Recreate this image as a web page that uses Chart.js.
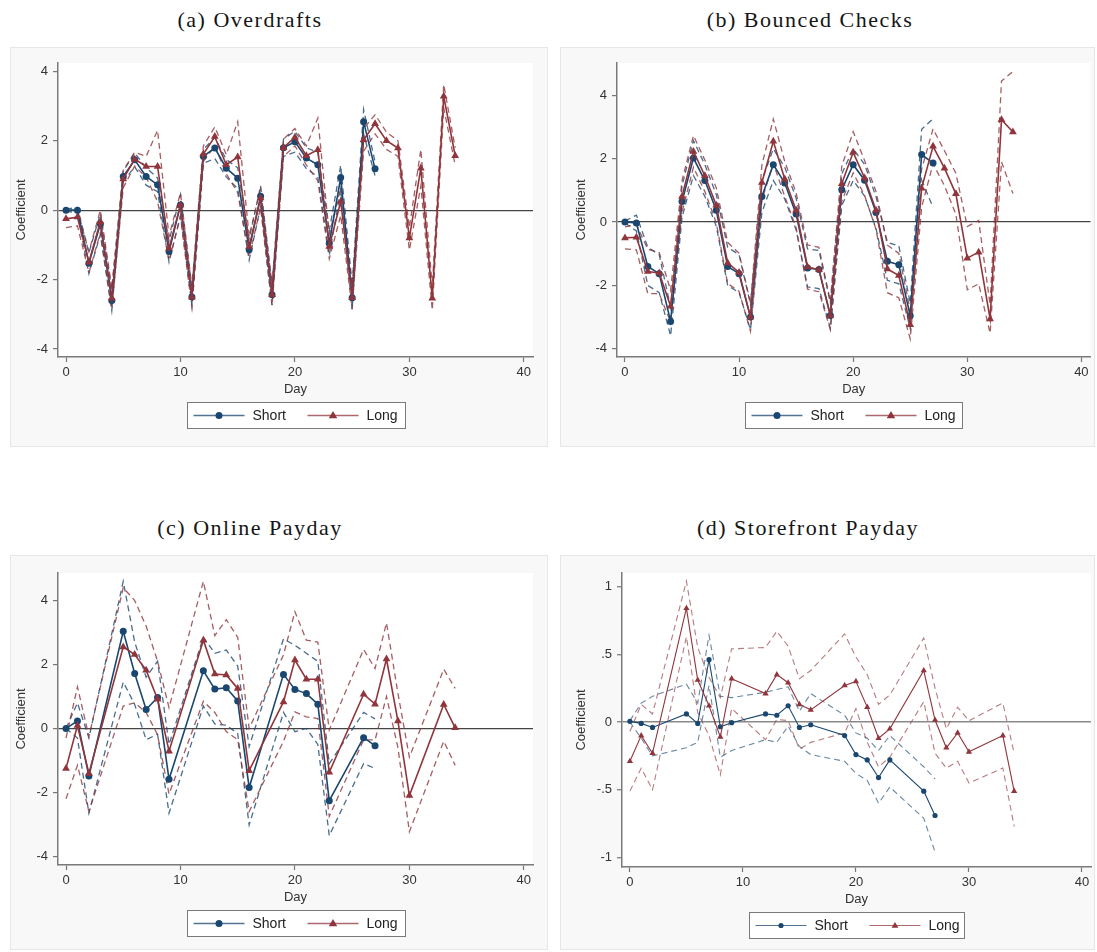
<!DOCTYPE html>
<html>
<head>
<meta charset="utf-8">
<script src="https://cdn.jsdelivr.net/npm/chart.js@4.4.0/dist/chart.umd.min.js"></script>
<style>
  body { margin: 0; background: #fff; width: 1097px; height: 952px; position: relative; overflow: hidden; }
  .titulo { position: absolute; transform: translateX(-50%); white-space: nowrap;
            font-family: "Liberation Serif", serif; font-size: 22px; letter-spacing: 1.5px; color: #151515; line-height: 26px; }
  .marco { position: absolute; box-sizing: border-box; background: #f8f8f8; border: 1px solid #e6e6e6; }
  canvas { position: absolute; }
</style>
</head>
<body>
<div class="titulo" style="left:250px;top:7px">(a) Overdrafts</div>
<div class="titulo" style="left:810px;top:7px">(b) Bounced Checks</div>
<div class="titulo" style="left:250px;top:515px">(c) Online Payday</div>
<div class="titulo" style="left:808px;top:515px">(d) Storefront Payday</div>

<div class="marco" style="left:10px;top:47px;width:538px;height:400px"></div>
<div class="marco" style="left:560px;top:47px;width:535px;height:400px"></div>
<div class="marco" style="left:10px;top:555px;width:538px;height:395px"></div>
<div class="marco" style="left:560px;top:555px;width:535px;height:395px"></div>

<canvas id="panelA" width="538" height="400" style="left:10px;top:47px"></canvas>
<canvas id="panelB" width="535" height="400" style="left:560px;top:47px"></canvas>
<canvas id="panelC" width="538" height="395" style="left:10px;top:555px"></canvas>
<canvas id="panelD" width="535" height="395" style="left:560px;top:555px"></canvas>

<script>
// Dias del evento
const diasCortoAB = [0,1,2,3,4,5,6,7,8,9,10,11,12,13,14,15,16,17,18,19,20,21,22,23,24,25,26,27];
const diasLargoAB = [0,1,2,3,4,5,6,7,8,9,10,11,12,13,14,15,16,17,18,19,20,21,22,23,24,25,26,27,28,29,30,31,32,33,34];
const diasCortoCD = [0,1,2,5,6,7,8,9,12,13,14,15,16,19,20,21,22,23,26,27];
const diasLargoCD = [0,1,2,5,6,7,8,9,12,13,14,15,16,19,20,21,22,23,26,27,28,29,30,33,34];

// (a) Overdrafts
const aCorto   = [0,0,-1.53,-0.4,-2.6,0.97,1.45,0.97,0.73,-1.19,0.15,-2.5,1.55,1.79,1.21,0.92,-1.14,0.4,-2.44,1.8,1.97,1.5,1.31,-0.95,0.94,-2.52,2.55,1.19];
const aCortoHi = [0.03,0.08,-1.23,-0.1,-2.3,1.12,1.65,1.22,0.93,-0.89,0.45,-2.25,1.75,2.09,1.46,1.22,-0.84,0.7,-2.14,2.05,2.27,1.8,1.66,-0.6,1.29,-2.17,2.9,1.39];
const aCortoLo = [-0.03,-0.08,-1.83,-0.7,-2.9,0.82,1.25,0.72,0.53,-1.49,-0.15,-2.75,1.35,1.49,0.96,0.62,-1.44,0.1,-2.74,1.55,1.67,1.2,0.96,-1.3,0.59,-2.87,2.2,0.99];
const aLargo   = [-0.25,-0.2,-1.5,-0.33,-2.54,0.9,1.47,1.26,1.26,-1.1,0.15,-2.5,1.62,2.12,1.31,1.53,-1.05,0.35,-2.44,1.8,2.1,1.57,1.74,-1.05,0.25,-2.52,2.03,2.49,2.0,1.79,-0.8,1.21,-2.54,3.28,1.57];
const aLargoHi = [-0.02,0.0,-1.2,0.0,-2.25,1.15,1.67,1.55,2.3,-0.75,0.5,-2.2,1.85,2.4,1.6,2.55,-0.75,0.62,-2.15,2.05,2.35,1.85,2.65,-0.7,0.65,-2.2,2.35,2.75,2.25,2.0,-0.5,1.75,-2.2,3.62,1.8];
const aLargoLo = [-0.5,-0.45,-1.8,-0.65,-2.85,0.65,1.27,0.95,0.25,-1.45,-0.2,-2.8,1.4,1.85,1.05,0.5,-1.35,0.08,-2.75,1.55,1.85,1.3,0.85,-1.4,-0.15,-2.85,1.7,2.2,1.75,1.55,-1.15,0.7,-2.88,2.95,1.3];

// (b) Bounced Checks
const bCorto   = [0,-0.03,-1.4,-1.63,-3.14,0.65,2.02,1.31,0.37,-1.4,-1.63,-3.0,0.81,1.81,1.23,0.25,-1.45,-1.5,-2.95,1.02,1.81,1.32,0.3,-1.24,-1.35,-2.96,2.13,1.86];
const bCortoHi = [0.03,0.22,-0.8,-1.03,-2.69,1.15,2.57,1.81,0.87,-0.8,-1.03,-2.6,1.31,2.31,1.73,0.75,-0.85,-0.9,-2.55,1.52,2.31,1.82,0.8,-0.64,-0.75,-2.56,2.93,3.26];
const bCortoLo = [-0.03,-0.28,-2.0,-2.23,-3.59,0.15,1.47,0.81,-0.13,-2.0,-2.23,-3.4,0.31,1.31,0.73,-0.25,-2.05,-2.1,-3.35,0.52,1.31,0.82,-0.2,-1.84,-1.95,-3.36,1.33,0.46];
const bLargo   = [-0.5,-0.48,-1.56,-1.61,-2.66,0.81,2.23,1.46,0.53,-1.29,-1.59,-3.0,1.25,2.55,1.36,0.37,-1.42,-1.5,-2.95,1.21,2.2,1.39,0.37,-1.48,-1.69,-3.24,1.07,2.39,1.7,0.89,-1.14,-0.95,-3.06,3.23,2.84];
const bLargoHi = [-0.15,-0.08,-0.86,-0.96,-2.16,1.31,2.73,1.96,1.08,-0.64,-0.99,-2.55,1.8,3.25,1.91,0.92,-0.72,-0.8,-2.5,1.76,2.85,1.94,0.97,-0.73,-0.99,-2.79,1.67,2.94,2.25,1.54,-0.14,0.05,-2.61,4.45,4.75];
const bLargoLo = [-0.85,-0.88,-2.26,-2.26,-3.16,0.31,1.73,0.96,-0.02,-1.94,-2.19,-3.45,0.7,1.85,0.81,-0.18,-2.12,-2.2,-3.4,0.66,1.55,0.84,-0.23,-2.23,-2.39,-3.69,0.47,1.84,1.15,0.24,-2.14,-1.95,-3.51,1.9,0.9];

// (c) Online Payday
const cCorto   = [0,0.23,-1.49,3.04,1.72,0.59,0.97,-1.59,1.8,1.23,1.27,0.86,-1.85,1.69,1.22,1.09,0.76,-2.26,-0.29,-0.54];
const cCortoHi = [0,0.8,-0.3,4.6,2.7,1.6,2.1,-0.5,2.85,2.35,2.45,1.95,-0.57,2.8,2.6,2.35,2.1,-1.1,0.5,0.3];
const cCortoLo = [0,-0.3,-2.65,1.45,0.75,-0.35,-0.18,-2.65,0.7,0.14,0.1,-0.16,-3.02,0.5,-0.1,0.0,-0.5,-3.35,-1.1,-1.25];
const cLargo   = [-1.25,0.09,-1.41,2.55,2.31,1.82,0.91,-0.71,2.76,1.7,1.67,1.25,-1.32,0.83,2.14,1.54,1.54,-1.37,1.07,0.76,2.17,0.23,-2.1,0.75,0.02];
const cLargoHi = [-0.3,1.3,-0.25,4.4,4.0,3.2,2.1,0.65,4.6,2.9,3.4,2.85,0.0,2.3,3.65,2.76,2.7,-0.05,2.47,1.87,3.3,1.1,-0.9,1.85,1.25];
const cLargoLo = [-2.2,-1.15,-2.6,0.7,0.8,0.5,-0.2,-2.05,0.85,0.5,-0.1,-0.35,-2.6,-0.4,0.52,0.36,0.31,-2.75,-0.36,-0.36,1.0,-0.6,-3.23,-0.4,-1.15];

// (d) Storefront Payday
const dCorto   = [0.005,-0.01,-0.04,0.06,-0.01,0.46,-0.035,-0.005,0.06,0.05,0.12,-0.04,-0.02,-0.1,-0.24,-0.28,-0.41,-0.28,-0.51,-0.69];
const dCortoHi = [0.01,0.14,0.19,0.28,0.14,0.64,0.19,0.18,0.22,0.24,0.26,0.08,0.21,0.05,-0.08,-0.12,-0.21,-0.1,-0.33,-0.42];
const dCortoLo = [0.0,-0.12,-0.25,-0.19,-0.15,0.27,-0.26,-0.21,-0.13,-0.15,-0.03,-0.18,-0.24,-0.29,-0.38,-0.43,-0.6,-0.48,-0.71,-0.96];
const dLargo   = [-0.29,-0.1,-0.23,0.84,0.31,0.12,-0.11,0.32,0.21,0.35,0.29,0.13,0.09,0.27,0.3,0.11,-0.12,-0.05,0.38,0.015,-0.19,-0.08,-0.22,-0.1,-0.51];
const dLargoHi = [-0.07,0.13,0.06,1.04,0.55,0.33,0.18,0.54,0.55,0.67,0.56,0.32,0.38,0.65,0.48,0.35,0.13,0.2,0.62,0.25,-0.05,0.11,0.01,0.14,-0.23];
const dLargoLo = [-0.51,-0.34,-0.5,0.63,0.07,-0.1,-0.39,0.1,-0.13,0.02,0.01,-0.2,-0.15,-0.08,0.1,-0.15,-0.33,-0.26,0.15,-0.23,-0.34,-0.29,-0.45,-0.34,-0.77];

// Ejes
const ticksX = [0, 10, 20, 30, 40];
const ticksY4 = [-4, -2, 0, 2, 4];
const etiquetasY4 = ['-4', '-2', '0', '2', '4'];
const ticksY1 = [-1, -0.5, 0, 0.5, 1];
const etiquetasY1 = ['-1', '-.5', '0', '.5', '1'];

const azul = '#1a476f';
const rojo = '#90353b';
const fuente = '"Liberation Sans", Arial, sans-serif';

function puntos(dias, valores) {
    return dias.map((d, i) => ({x: d, y: valores[i]}));
}

function marcador(ctx, forma, x, y, r, color) {
    ctx.fillStyle = color;
    ctx.beginPath();
    if (forma === 'circle') {
        ctx.arc(x, y, r, 0, Math.PI * 2);
    } else {
        ctx.moveTo(x, y - r);
        ctx.lineTo(x - r * 0.95, y + r * 0.6);
        ctx.lineTo(x + r * 0.95, y + r * 0.6);
        ctx.closePath();
    }
    ctx.fill();
}

// Fondo blanco del area de trazado y leyenda tipo Stata
const fondoYLeyenda = {
    id: 'fondoYLeyenda',
    beforeDraw(chart) {
        const {ctx, chartArea: a} = chart;
        ctx.save();
        ctx.fillStyle = '#ffffff';
        ctx.fillRect(a.left, a.top, a.right - a.left, a.bottom - a.top);
        ctx.restore();
    },
    afterDraw(chart, args, opts) {
        const {ctx, chartArea: a} = chart;
        const ancho = opts.ancho, alto = 26;
        const x0 = Math.round((a.left + a.right) / 2 - ancho / 2) + 0.5;
        const y0 = Math.round(a.bottom + 45) + 0.5;
        ctx.save();
        ctx.fillStyle = '#ffffff';
        ctx.fillRect(x0, y0, ancho, alto);
        ctx.strokeStyle = '#7a7a7a';
        ctx.lineWidth = 1;
        ctx.strokeRect(x0, y0, ancho, alto);
        const yc = y0 + alto / 2;
        const items = [
            {texto: 'Short', color: azul, forma: 'circle', r: opts.rCirculo, x: 6},
            {texto: 'Long', color: rojo, forma: 'triangle', r: opts.rTriangulo, x: 120}
        ];
        items.forEach(it => {
            ctx.strokeStyle = it.color;
            ctx.globalAlpha = 0.75;
            ctx.lineWidth = opts.grosor;
            ctx.beginPath();
            ctx.moveTo(x0 + it.x, yc);
            ctx.lineTo(x0 + it.x + 51, yc);
            ctx.stroke();
            ctx.globalAlpha = 1;
            marcador(ctx, it.forma, x0 + it.x + 25.5, yc, it.r, it.color);
            ctx.fillStyle = '#222';
            ctx.font = '14px ' + fuente;
            ctx.textBaseline = 'middle';
            ctx.fillText(it.texto, x0 + it.x + 59, yc + 1);
        });
        ctx.restore();
    }
};

function crearPanel(id, p) {
    const lineaBanda = (datos, color) => ({
        data: datos,
        borderColor: color,
        borderWidth: p.grosorBanda,
        borderDash: [6, 4],
        pointRadius: 0,
        fill: false,
        tension: 0
    });
    const lineaCoef = (datos, color, forma, r) => ({
        data: datos,
        borderColor: color,
        backgroundColor: color,
        borderWidth: p.grosor,
        pointStyle: forma,
        pointRadius: r,
        pointBorderWidth: 0,
        fill: false,
        tension: 0
    });
    return new Chart(document.getElementById(id), {
        type: 'line',
        data: {
            datasets: [
                lineaCoef(puntos(p.diasLargo, p.largo), rojo, 'triangle', p.rTriangulo),
                lineaCoef(puntos(p.diasCorto, p.corto), azul, 'circle', p.rCirculo),
                lineaBanda(puntos(p.diasLargo, p.largoHi), p.rojoBanda),
                lineaBanda(puntos(p.diasLargo, p.largoLo), p.rojoBanda),
                lineaBanda(puntos(p.diasCorto, p.cortoHi), p.azulBanda),
                lineaBanda(puntos(p.diasCorto, p.cortoLo), p.azulBanda)
            ]
        },
        options: {
            responsive: false,
            animation: false,
            devicePixelRatio: 1,
            events: [],
            layout: { padding: p.padding },
            plugins: {
                legend: { display: false },
                tooltip: { enabled: false },
                fondoYLeyenda: { ancho: p.anchoLeyenda, rCirculo: p.rCirculo, rTriangulo: p.rTriangulo, grosor: p.grosor }
            },
            scales: {
                x: {
                    type: 'linear',
                    min: -0.7,
                    max: 40.8,
                    afterBuildTicks: eje => { eje.ticks = ticksX.map(v => ({value: v})); },
                    afterFit: eje => { eje.height = 40; },
                    grid: { drawOnChartArea: false, drawTicks: true, tickLength: 5, tickColor: '#777', tickWidth: 1.2 },
                    border: { display: true, color: '#7a7a7a', width: 1.5 },
                    ticks: { color: '#333', font: { size: 13, family: fuente }, padding: 3, maxRotation: 0, autoSkip: false },
                    title: { display: true, text: 'Day', color: '#333', font: { size: 13, family: fuente }, padding: { top: 0, bottom: 0 } }
                },
                y: {
                    min: p.yMin,
                    max: p.yMax,
                    afterBuildTicks: eje => { eje.ticks = p.ticksY.map(v => ({value: v})); },
                    afterFit: eje => { eje.width = p.anchoY; },
                    grid: {
                        drawOnChartArea: true,
                        drawTicks: true,
                        tickLength: 5,
                        tickColor: '#777',
                        tickWidth: 1.2,
                        color: c => (c.tick && c.tick.value === 0) ? p.colorCero : 'rgba(0,0,0,0)',
                        lineWidth: p.grosorCero
                    },
                    border: { display: true, color: '#7a7a7a', width: 1.5 },
                    ticks: {
                        color: '#333',
                        font: { size: 13, family: fuente },
                        padding: 5,
                        autoSkip: false,
                        callback: (v, i) => p.etiquetasY[i]
                    },
                    title: { display: true, text: 'Coefficient', color: '#333', font: { size: 13, family: fuente }, padding: { top: p.padTitulo, bottom: 0 } }
                }
            }
        },
        plugins: [fondoYLeyenda]
    });
}

const estiloGrueso = {
    grosor: 1.6, grosorBanda: 1.3, rCirculo: 3.5, rTriangulo: 4.5,
    azulBanda: 'rgba(26,71,111,0.8)', rojoBanda: 'rgba(144,53,59,0.8)',
    colorCero: '#444', grosorCero: 1.2
};

crearPanel('panelA', Object.assign({}, estiloGrueso, {
    diasCorto: diasCortoAB, diasLargo: diasLargoAB,
    corto: aCorto, cortoHi: aCortoHi, cortoLo: aCortoLo,
    largo: aLargo, largoHi: aLargoHi, largoLo: aLargoLo,
    yMin: -4.23, yMax: 4.24, ticksY: ticksY4, etiquetasY: etiquetasY4,
    anchoY: 48, padTitulo: 4, anchoLeyenda: 218,
    padding: { left: 0, right: 15, top: 16, bottom: 50 }
}));

crearPanel('panelB', Object.assign({}, estiloGrueso, {
    diasCorto: diasCortoAB, diasLargo: diasLargoAB,
    corto: bCorto, cortoHi: bCortoHi, cortoLo: bCortoLo,
    largo: bLargo, largoHi: bLargoHi, largoLo: bLargoLo,
    yMin: -4.26, yMax: 5.02, ticksY: ticksY4, etiquetasY: etiquetasY4,
    anchoY: 57, padTitulo: 14, anchoLeyenda: 217,
    padding: { left: 0, right: 3, top: 16, bottom: 50 }
}));

crearPanel('panelC', Object.assign({}, estiloGrueso, {
    diasCorto: diasCortoCD, diasLargo: diasLargoCD,
    corto: cCorto, cortoHi: cCortoHi, cortoLo: cCortoLo,
    largo: cLargo, largoHi: cLargoHi, largoLo: cLargoLo,
    yMin: -4.27, yMax: 4.86, ticksY: ticksY4, etiquetasY: etiquetasY4,
    anchoY: 48, padTitulo: 4, anchoLeyenda: 218,
    padding: { left: 0, right: 15, top: 18, bottom: 45 }
}));

crearPanel('panelD', {
    grosor: 1.1, grosorBanda: 1.1, rCirculo: 2.6, rTriangulo: 3.6,
    azulBanda: 'rgba(26,71,111,0.65)', rojoBanda: 'rgba(144,53,59,0.65)',
    colorCero: '#8a8a8a', grosorCero: 1.5,
    diasCorto: diasCortoCD, diasLargo: diasLargoCD,
    corto: dCorto, cortoHi: dCortoHi, cortoLo: dCortoLo,
    largo: dLargo, largoHi: dLargoHi, largoLo: dLargoLo,
    yMin: -1.07, yMax: 1.10, ticksY: ticksY1, etiquetasY: etiquetasY1,
    anchoY: 62, padTitulo: 14, anchoLeyenda: 215,
    padding: { left: 0, right: 3, top: 18, bottom: 43 }
});
</script>
</body>
</html>
